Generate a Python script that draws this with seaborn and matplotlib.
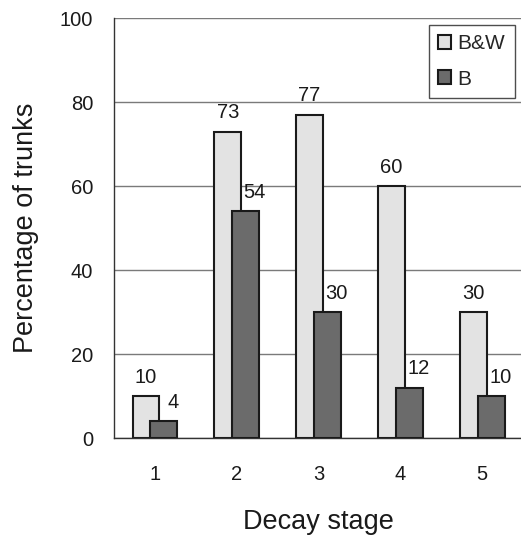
import matplotlib
matplotlib.use("Agg")
import matplotlib.pyplot as plt
import seaborn as sns
import pandas as pd
from matplotlib.ticker import FixedLocator

stages = ["1", "2", "3", "4", "5"]
bw_values = [10, 73, 77, 60, 30]
b_values = [4, 54, 30, 12, 10]
series = ["B&W", "B"]
yticks = [0, 20, 40, 60, 80, 100]

df = pd.DataFrame({
    "stage": stages * 2,
    "pct": bw_values + b_values,
    "type": [series[0]] * len(stages) + [series[1]] * len(stages),
})

sns.set_style("white")
plt.rcParams["font.family"] = ["Liberation Sans", "DejaVu Sans"]

fig = plt.figure(figsize=(5.21, 5.37), dpi=100)
ax = fig.add_axes([0.219, 0.184, 0.785, 0.782])

colors = {"B&W": "#e3e3e3", "B": "#6b6b6b"}
sns.barplot(data=df, x="stage", y="pct", hue="type", order=stages,
            hue_order=series, palette=colors, width=0.44, dodge=True,
            edgecolor="#1a1a1a", linewidth=1.5, ax=ax, legend=True,
            errorbar=None)

bar_w = 0.33
nb = len(stages)
for i, p in enumerate(ax.patches[:2 * nb]):
    cx = p.get_x() + p.get_width() / 2
    p.set_x(cx - bar_w / 2)
    p.set_width(bar_w)
    p.set_zorder(3 if i >= nb else 2)

# value labels
for i, p in enumerate(ax.patches[:2 * nb]):
    cx = p.get_x() + p.get_width() / 2
    h = p.get_height()
    dx = 0.11 if i >= nb else 0.0
    ax.text(cx + dx, h + 2.3, f"{int(h)}", ha="center", va="bottom",
            fontsize=14.5, color="#1a1a1a", zorder=5)

ax.set_xlim(-0.5, nb - 0.5)
ax.set_ylim(0, 100)
ax.set_yticks(yticks)
ax.yaxis.grid(True, color="#7a7a7a", linewidth=1.0)
ax.set_axisbelow(True)
for s in ["top", "right"]:
    ax.spines[s].set_visible(False)
ax.spines["left"].set_color("#333333")
ax.spines["bottom"].set_color("#333333")
ax.spines["left"].set_linewidth(1.0)
ax.spines["bottom"].set_linewidth(1.0)

ax.tick_params(axis="y", which="major", direction="out", length=5,
               color="#555555", labelsize=14.5, labelcolor="#1a1a1a", pad=10)
ax.tick_params(axis="x", which="major", length=0, labelsize=14.5,
               labelcolor="#1a1a1a", pad=19)
ax.xaxis.set_minor_locator(FixedLocator([k - 0.5 for k in range(nb + 1)]))
ax.tick_params(axis="x", which="minor", direction="inout", length=10,
               color="#333333", width=1.0)

ax.set_xlabel("Decay stage", fontsize=19.5, color="#1a1a1a", labelpad=18)
ax.set_ylabel("Percentage of trunks", fontsize=19.5, color="#1a1a1a",
              labelpad=15)

leg = ax.legend(loc="upper right", bbox_to_anchor=(0.99, 0.995),
                frameon=True, fancybox=False, fontsize=15,
                handlelength=0.65, handleheight=0.65, handletextpad=0.3,
                borderpad=0.45, labelspacing=0.8, borderaxespad=0.2)
leg.get_frame().set_edgecolor("#222222")
leg.get_frame().set_linewidth(1.0)
leg.get_frame().set_facecolor("white")
leg.set_zorder(6)

fig.savefig("out.png", dpi=100)
